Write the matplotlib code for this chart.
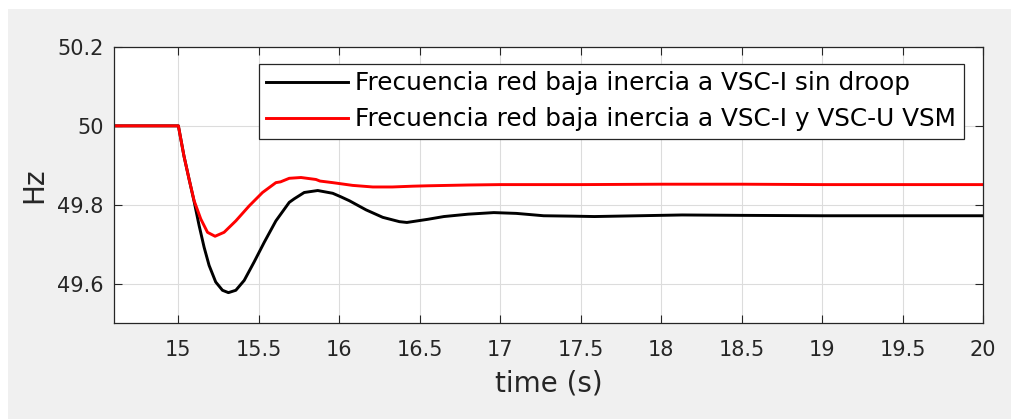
import matplotlib

matplotlib.use("Agg")
import matplotlib.pyplot as plt
from matplotlib.patches import Rectangle

# Values (time in s, frequency in Hz).
time_no_droop = [14.6, 15.0, 15.035, 15.067, 15.098, 15.129, 15.16, 15.191, 15.232,
                 15.274, 15.311, 15.357, 15.409, 15.471, 15.534, 15.606, 15.689,
                 15.72, 15.782, 15.866, 15.959, 16.01, 16.063, 16.166, 16.27, 16.374,
                 16.42, 16.55, 16.65, 16.8, 16.96, 17.1, 17.27, 17.45, 17.585, 18.13,
                 18.5, 19.0, 19.5, 20.0]
freq_no_droop = [50.0, 50.0, 49.923, 49.864, 49.808, 49.747, 49.692, 49.646, 49.604,
                 49.583, 49.577, 49.583, 49.608, 49.655, 49.705, 49.759, 49.806,
                 49.815, 49.831, 49.836, 49.829, 49.820, 49.810, 49.787, 49.768, 49.757,
                 49.755, 49.763, 49.770, 49.776, 49.780, 49.778, 49.772, 49.771, 49.770,
                 49.774, 49.773, 49.772, 49.772, 49.772]

time_vsm = [14.6, 15.0, 15.035, 15.067, 15.098, 15.139, 15.181, 15.228, 15.284,
            15.357, 15.44, 15.523, 15.606, 15.635, 15.689, 15.762, 15.855, 15.88,
            15.959, 16.083, 16.208, 16.33, 16.457, 16.55, 16.8, 17.0, 17.5, 18.0,
            18.5, 19.0, 20.0]
freq_vsm = [50.0, 50.0, 49.923, 49.864, 49.810, 49.764, 49.730, 49.720, 49.730,
            49.759, 49.797, 49.831, 49.856, 49.858, 49.867, 49.869, 49.864, 49.860,
            49.856, 49.849, 49.845, 49.845, 49.847, 49.848, 49.850, 49.851, 49.851,
            49.852, 49.852, 49.851, 49.851]

labels = ["Frecuencia red baja inercia a VSC-I sin droop",
          "Frecuencia red baja inercia a VSC-I y VSC-U VSM"]
x_ticks = [15, 15.5, 16, 16.5, 17, 17.5, 18, 18.5, 19, 19.5, 20]
x_tick_labels = ["15", "15.5", "16", "16.5", "17", "17.5", "18", "18.5", "19", "19.5", "20"]
y_ticks = [49.6, 49.8, 50.0, 50.2]
y_tick_labels = ["49.6", "49.8", "50", "50.2"]

W, H = 1011, 419
TEXT = "#262626"

fig = plt.figure(figsize=(W / 100, H / 100), dpi=100, facecolor="white")
# MATLAB-like grey panel, with a thin white strip on the top and left.
fig.patches.append(Rectangle((8 / W, 0), 1, 1 - 9 / H, transform=fig.transFigure,
                             facecolor="#f0f0f0", edgecolor="none", zorder=-10))

ax = fig.add_axes([114 / W, 1 - 323 / H, 869 / W, 276 / H])
ax.set_facecolor("white")

ax.plot(time_no_droop, freq_no_droop, color="black", lw=2.1, label=labels[0])
ax.plot(time_vsm, freq_vsm, color="#ff0000", lw=2.1, label=labels[1])

ax.set_xlim(14.6, 20)
ax.set_ylim(49.5, 50.2)
ax.set_xticks(x_ticks)
ax.set_xticklabels(x_tick_labels)
ax.set_yticks(y_ticks)
ax.set_yticklabels(y_tick_labels)

ax.grid(True, color="#dcdcdc", lw=0.8)
ax.set_axisbelow(True)
for spine in ax.spines.values():
    spine.set_color(TEXT)
    spine.set_linewidth(0.9)

ax.tick_params(axis="both", direction="in", top=True, right=True, length=5.5,
               width=0.8, color=TEXT, labelcolor=TEXT, labelsize=15)
ax.tick_params(axis="x", pad=12)
ax.tick_params(axis="y", pad=7.5)

ax.set_xlabel("time (s)", fontsize=20, color=TEXT, labelpad=7)
ax.set_ylabel("Hz", fontsize=20, color=TEXT, labelpad=6)

leg = ax.legend(loc="upper left", bbox_to_anchor=(259 / W, 1 - 64 / H),
                bbox_transform=fig.transFigure, borderaxespad=0,
                fontsize=17.8, handlelength=3.3, handletextpad=0.3,
                labelspacing=0.48, borderpad=0.3, fancybox=False,
                framealpha=1, edgecolor=TEXT)
leg.get_frame().set_linewidth(0.9)

fig.savefig("out.png", dpi=100)
